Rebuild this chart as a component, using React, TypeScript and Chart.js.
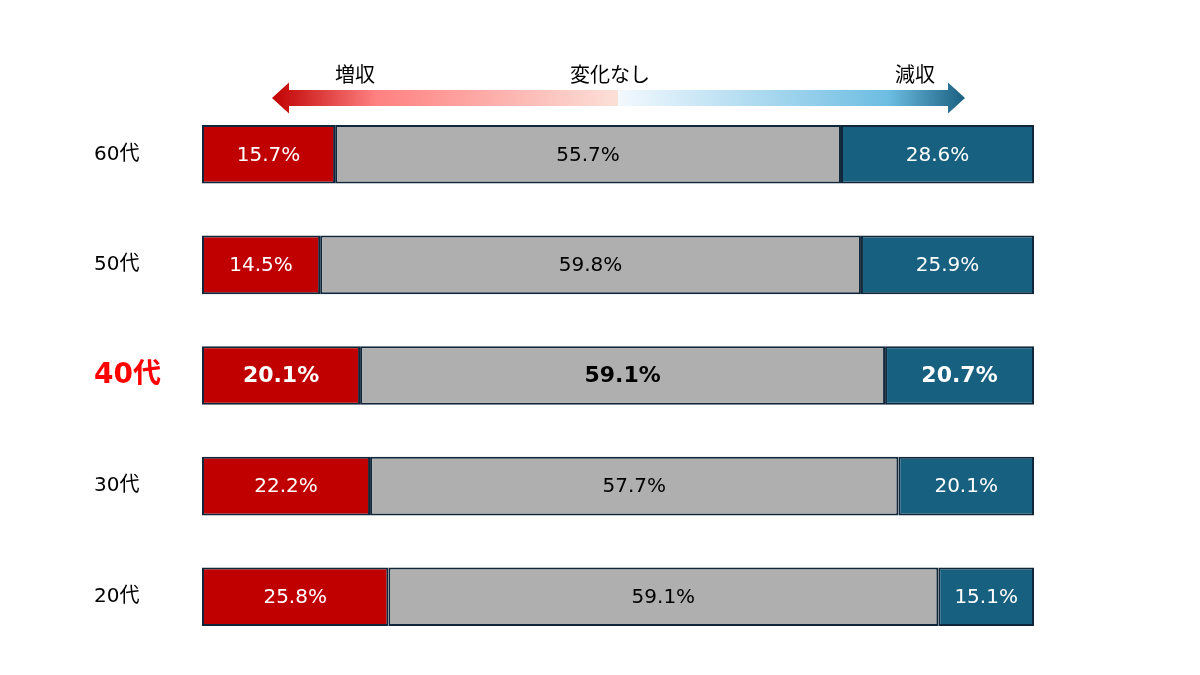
import React, { useEffect, useRef } from "react";
import { Chart, registerables } from "chart.js";

Chart.register(...registerables);

const categories = ["60代", "50代", "40代", "30代", "20代"];
// Bar lengths as drawn in the reference (share of the bar, %)
const increase = [16.0, 14.2, 19.0, 20.2, 22.4];
const unchanged = [60.8, 65.0, 63.1, 63.5, 66.1];
const decrease = [23.2, 20.8, 17.9, 16.3, 11.5];
// Value labels as printed in the reference
const increaseLabels = ["15.7%", "14.5%", "20.1%", "22.2%", "25.8%"];
const unchangedLabels = ["55.7%", "59.8%", "59.1%", "57.7%", "59.1%"];
const decreaseLabels = ["28.6%", "25.9%", "20.7%", "20.1%", "15.1%"];
const seriesNames = ["増収", "変化なし", "減収"];
const highlightIndex = 2;

const JP = "'DejaVu Sans', 'Noto Sans CJK JP', sans-serif";
const labelSets = [increaseLabels, unchangedLabels, decreaseLabels];

const arrowPlugin = {
  id: "arrowHeader",
  afterDraw(chart: any) {
    const ctx = chart.ctx;
    const left = 272;
    const right = 965;
    const mid = 618;
    const cy = 98;
    const bandH = 16;
    const headH = 31;
    const headW = 17;
    ctx.save();
    const gL = ctx.createLinearGradient(left, 0, mid, 0);
    gL.addColorStop(0, "#c00000");
    gL.addColorStop(0.3, "#ff8080");
    gL.addColorStop(1, "#fbe0d8");
    ctx.fillStyle = gL;
    ctx.beginPath();
    ctx.moveTo(left, cy);
    ctx.lineTo(left + headW, cy - headH / 2);
    ctx.lineTo(left + headW, cy - bandH / 2);
    ctx.lineTo(mid, cy - bandH / 2);
    ctx.lineTo(mid, cy + bandH / 2);
    ctx.lineTo(left + headW, cy + bandH / 2);
    ctx.lineTo(left + headW, cy + headH / 2);
    ctx.closePath();
    ctx.fill();
    const gR = ctx.createLinearGradient(mid, 0, right, 0);
    gR.addColorStop(0, "#f3f9fe");
    gR.addColorStop(0.78, "#6cbde2");
    gR.addColorStop(1, "#1a5f80");
    ctx.fillStyle = gR;
    ctx.beginPath();
    ctx.moveTo(mid, cy - bandH / 2);
    ctx.lineTo(right - headW, cy - bandH / 2);
    ctx.lineTo(right - headW, cy - headH / 2);
    ctx.lineTo(right, cy);
    ctx.lineTo(right - headW, cy + headH / 2);
    ctx.lineTo(right - headW, cy + bandH / 2);
    ctx.lineTo(mid, cy + bandH / 2);
    ctx.closePath();
    ctx.fill();
    ctx.fillStyle = "#000";
    ctx.font = `20px ${JP}`;
    ctx.textAlign = "center";
    ctx.textBaseline = "alphabetic";
    ctx.fillText(seriesNames[0], 355, 82);
    ctx.fillText(seriesNames[1], 610, 82);
    ctx.fillText(seriesNames[2], 915, 82);
    ctx.restore();
  },
};

const valueLabelPlugin = {
  id: "valueLabels",
  afterDatasetsDraw(chart: any) {
    const ctx = chart.ctx;
    ctx.save();
    ctx.textAlign = "center";
    ctx.textBaseline = "middle";
    chart.data.datasets.forEach((ds: any, di: number) => {
      const meta = chart.getDatasetMeta(di);
      meta.data.forEach((bar: any, i: number) => {
        const bold = i === highlightIndex;
        ctx.font = `${bold ? "bold " : ""}${bold ? 22 : 20}px ${JP}`;
        ctx.fillStyle = di === 1 ? "#000" : "#fff";
        const x = (bar.x + bar.base) / 2;
        ctx.fillText(labelSets[di][i], x, bar.y + 1);
      });
    });
    ctx.restore();
  },
};

export default function App() {
  const ref = useRef<HTMLCanvasElement>(null);
  useEffect(() => {
    document.body.style.margin = "0";
    const chart = new Chart(ref.current!, {
      type: "bar",
      data: {
        labels: categories,
        datasets: [
          { label: seriesNames[0], data: increase, backgroundColor: "#c00000" },
          { label: seriesNames[1], data: unchanged, backgroundColor: "#afafaf" },
          { label: seriesNames[2], data: decrease, backgroundColor: "#17607f" },
        ].map((d) => ({
          ...d,
          borderColor: "#10263a",
          borderWidth: 2,
          borderSkipped: false,
          categoryPercentage: 1,
          barPercentage: 0.53,
        })),
      },
      options: {
        indexAxis: "y",
        animation: false,
        responsive: false,
        layout: { padding: { left: 94, right: 166, top: 99, bottom: 23 } },
        plugins: { legend: { display: false }, tooltip: { enabled: false } },
        scales: {
          x: { stacked: true, min: 0, max: 100, display: false },
          y: {
            stacked: true,
            grid: { display: false },
            border: { display: false },
            afterFit(scale: any) {
              scale.width = 108;
            },
            ticks: {
              crossAlign: "far",
              padding: 0,
              color: (c: any) => (c.index === highlightIndex ? "#ff0000" : "#000"),
              font: (c: any) =>
                c.index === highlightIndex
                  ? { size: 28, weight: "bold", family: JP }
                  : { size: 20, family: JP },
            },
          },
        },
      } as any,
      plugins: [arrowPlugin, valueLabelPlugin],
    });
    return () => chart.destroy();
  }, []);
  return (
    <div style={{ position: "absolute", left: 0, top: 0, width: 1200, height: 675, background: "#fff" }}>
      <canvas ref={ref} width={1200} height={675} style={{ width: 1200, height: 675 }} />
    </div>
  );
}
